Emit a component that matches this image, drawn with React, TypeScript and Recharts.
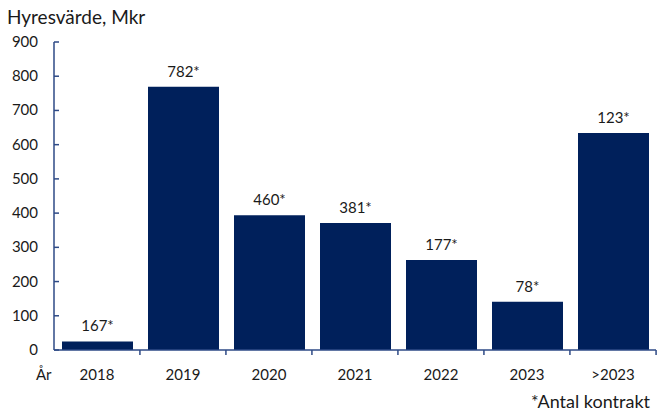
import { BarChart, Bar, XAxis, YAxis, LabelList } from "recharts";

const years = ["2018", "2019", "2020", "2021", "2022", "2023", ">2023"];
const rentValue = [25, 769, 394, 371, 263, 141, 634];
const contracts = [167, 782, 460, 381, 177, 78, 123];
const yTicks = [0, 100, 200, 300, 400, 500, 600, 700, 800, 900];

const data = years.map((year, i) => ({
  year,
  value: rentValue[i],
  count: contracts[i],
}));

const FONT = "Lato, 'Noto Sans', sans-serif";
const AXIS = "#2e4a86";
const BAR = "#00205b";
const TEXT = "#1a1a1a";
const BAND = 603 / 7;

function YTick(props: any) {
  const { x, y, payload } = props;
  return (
    <g>
      <line x1={x} x2={x + 5} y1={y} y2={y} stroke={AXIS} strokeWidth={1.5} />
      <text x={x - 16} y={y} dy={5} textAnchor="end" fontSize={15} fill={TEXT} fontFamily={FONT}>
        {payload.value}
      </text>
    </g>
  );
}

function XTick(props: any) {
  const { x, y, payload, index } = props;
  const last = index === years.length - 1;
  return (
    <g>
      {index > 0 && (
        <line x1={x - BAND / 2} x2={x - BAND / 2} y1={y} y2={y + 5} stroke={AXIS} strokeWidth={1.5} />
      )}
      {last && (
        <line x1={x + BAND / 2} x2={x + BAND / 2} y1={y} y2={y + 5} stroke={AXIS} strokeWidth={1.5} />
      )}
      <text x={x} y={y + 25} dy={5} textAnchor="middle" fontSize={15} fill={TEXT} fontFamily={FONT}>
        {payload.value}
      </text>
    </g>
  );
}

export default function App() {
  return (
    <div style={{ position: "absolute", left: 0, top: 0, width: 657, height: 411, background: "#fff", overflow: "hidden" }}>
      <div style={{ position: "absolute", left: 7, top: 5, fontSize: 19, fontFamily: FONT, color: TEXT, whiteSpace: "nowrap" }}>
        Hyresvärde, Mkr
      </div>
      <BarChart
        width={657}
        height={411}
        data={data}
        margin={{ top: 42, right: 1, bottom: 0, left: 0 }}
      >
        <YAxis
          domain={[0, 900]}
          ticks={yTicks}
          width={54}
          tickSize={0}
          tickMargin={0}
          axisLine={{ stroke: AXIS, strokeWidth: 1.5 }}
          tick={<YTick />}
          interval={0}
        />
        <XAxis
          dataKey="year"
          height={61}
          tickSize={0}
          tickMargin={0}
          axisLine={{ stroke: AXIS, strokeWidth: 1.5 }}
          tick={<XTick />}
          interval={0}
        />
        <Bar dataKey="value" fill={BAR} barSize={71} isAnimationActive={false}>
          <LabelList
            dataKey="count"
            position="top"
            offset={10}
            formatter={(v: any) => `${v}*`}
            style={{ fontSize: 15, fill: TEXT, fontFamily: FONT }}
          />
        </Bar>
      </BarChart>
      <div style={{ position: "absolute", left: 36, top: 365, fontSize: 15, fontFamily: FONT, color: TEXT }}>
        År
      </div>
      <div style={{ position: "absolute", right: 7, top: 392, fontSize: 18, lineHeight: "18px", fontFamily: FONT, color: TEXT, whiteSpace: "nowrap" }}>
        *Antal kontrakt
      </div>
    </div>
  );
}
